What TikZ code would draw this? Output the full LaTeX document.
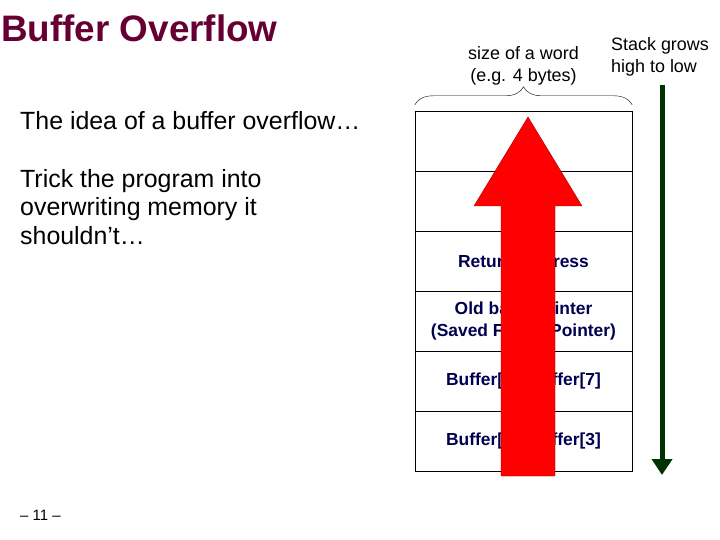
\documentclass[tikz,border=0pt]{standalone}
\usepackage{fontspec}
\setmainfont{Liberation Sans}
\usetikzlibrary{decorations.pathreplacing,arrows.meta}
\definecolor{titlered}{RGB}{102,0,51}
\definecolor{stacknavy}{RGB}{0,0,80}
\definecolor{growgreen}{RGB}{0,51,0}
\begin{document}
\begin{tikzpicture}[x=1bp,y=-1bp]

% Style for nodes
\tikzstyle{slot}=[draw,minimum width=217bp,minimum height=60bp,inner sep=0,font=\fontsize{17.5}{22}\selectfont\bfseries,text=stacknavy,align=center]
\tikzstyle{plain}=[inner sep=0,anchor=west,align=left]
\useasboundingbox (0,0) rectangle (720,540);
% Title and text
\node(title)[plain,text=titlered,font=\fontsize{37}{40}\selectfont\bfseries] at (1,28) {Buffer Overflow};
\node(idea)[plain,font=\fontsize{25}{29}\selectfont] at (20,121) {The idea of a buffer overflow\dots};
\node(trick)[plain,font=\fontsize{25}{29}\selectfont] at (20,207) {Trick the program into\\overwriting memory it\\shouldn't\dots};
\node(page)[plain,font=\fontsize{15}{17}\selectfont] at (20,515) {-- 11 --};
% The Stack
\node(s1)[slot] at (523.5,141) {};
\node(s2)[slot] at (523.5,201) {};
\node(s3)[slot] at (523.5,261) {Return Address};
\node(s4)[slot] at (523.5,321) {Old base pointer\\(Saved Frame Pointer)};
\node(s5)[slot] at (523.5,381) {Buffer[4]..Buffer[7]};
\node(s6)[slot] at (523.5,441) {Buffer[0]..Buffer[3]};
% Word size
\draw[decorate,decoration={brace,amplitude=18bp,raise=6bp}] (s1.north west) -- (s1.north east)
    coordinate[midway,yshift=30bp](tip);
\node(word)[font=\fontsize{18}{22}\selectfont,align=center,anchor=south] at ([yshift=-8bp]tip) {size of a word\\(e.g. 4 bytes)};
% Overflow arrow
\fill[red,draw=red!60!black] (501,476) -- (501,206) -- (474,206) -- (528,117) -- (582,206) -- (555,206) -- (555,476) -- cycle;
% Growth direction
\node(grow)[plain,font=\fontsize{18}{22}\selectfont] at (611,57) {Stack grows\\high to low};
\coordinate(gtop) at (662,85);
\coordinate(gbot) at (662,475);
\draw[growgreen,line width=5bp,-{Triangle[length=16bp,width=20bp]}] (gtop) -- (gbot);
\end{tikzpicture}
\end{document}
